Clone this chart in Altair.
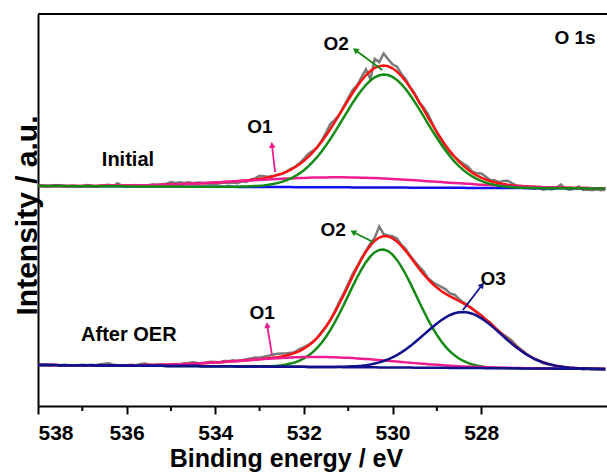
import altair as alt
import numpy as np
import pandas as pd

# ---------------- data ----------------
energy_start = 538.0      # eV, first raw-data point
energy_step = 0.1         # eV
n_points = 129

# raw spectrum = fitted envelope + residual (residuals, a.u.)
initial_residual = [
    0, 0.5, -0.5, 0, 1, 0.5, -0.5, 0, 0.5, -0.5,
    0, 1, 0.5, -0.5, 0, 0.5, 1, 0, 2.5, -0.5,
    0, -0.5, 0.5, 0, -1, 0, 0.5, 0, 0.5, 1,
    2.5, 1.5, 2, 1, 1.5, 0.5, 1, 0.5, -0.5, -1,
    -1.5, -1, -0.5, -1.5, -1, -2, -0.5, -1.5, 0.5, 1,
    3, 2, 0.5, 0, 0.5, -0.5, 0, 1, 0.5, 1,
    2, 3, 1.5, 0, 1, 3, 5, 2, 0, 1,
    2, 3, 1, 3, 6, -8, 9, 4, 12, 7,
    4, 5, 2, 2, 0, 1, -1, 2, 3, 1,
    -1, -3, -4, -2, 0, 1, 2, 3, 1, 2,
    4, 3, 1, 2, 1, 3, 4, 2, 0, 0,
    -1, -1.5, -2, -1, -2.5, -1.5, -2, 0, 3, -1,
    -2, -1, 1.5, -2, -1.5, -2, -1, -2, -1.5,
]
after_residual = [
    0, 0.5, 0, -0.5, 0.5, 0, 0.5, 0, -0.5, 0,
    0.5, 0, 0.5, 0, 1, 1.5, 2, 0.5, 0, -0.5,
    0, 0.5, 0, 1, 1.5, 0.5, 0, 0.5, 0, -0.5,
    0, 0.5, 0, 0.5, 1, 1.5, 0.5, 0, 0.5, 1,
    0.5, 0, 1, 0.5, 1, 0, 0.5, 1, 1.5, 2,
    1.5, 2, 2.5, 3, 3.5, 3, 2, 1.5, 1, 2,
    1.5, 1, 0.5, 0, 1, 0.5, 0, 1, 2, 1.5,
    2, 2.5, 1, 1, 1, 2, 3, 11, 2, 1,
    2, 3, 1, 2, 1, 1.5, 2, 3, 1, 2,
    3, 4, 4.5, 3, 4, 2, 1, 0.5, 0, -0.5,
    0, -0.5, 0.5, 0, 0.5, 1, 2, 2.5, 1.5, 1,
    0.5, 0, -0.5, 0, -1, -0.5, 0.5, -1, -0.5, 0,
    -1, -0.5, 0, -1, -0.5, 0, -0.5, -1, -0.5,
]

# fitted components: (centre eV, height a.u., sigma eV)
initial_components = {"O1": (531.18, 10, 2.14), "O2": (530.19, 113, 0.93)}
after_components = {"O1": (531.63, 10, 1.69), "O2": (530.23, 118, 0.77), "O3": (528.41, 56, 0.86)}

# linear backgrounds (offset of each stacked spectrum) at 538 eV and at 525.16 eV
initial_background = (220.0, 217.5)
after_background = (41.0, 37.0)

x_min, x_max = 525.16, 538.0
tick_values = [538, 536, 534, 532, 530, 528]
minor_tick_values = [537, 535, 533, 531, 529]

labels = ["O 1s", "Initial", "After OER", "O1", "O2", "O1", "O2", "O3"]
label_energy = [525.88, 535.97, 535.95, 532.99, 531.27, 532.94, 531.34, 527.73]
label_intensity = [368, 246, 71, 279, 362, 93, 176, 127]
label_size = [19, 20, 20, 19, 19, 19, 19, 19]

arrow_color = ["#ee1c8e", "#138a13", "#ee1c8e", "#138a13", "#10108c"]
arrow_e_start = [532.65, 530.23, 532.72, 530.44, 528.41]
arrow_i_start = [234, 336, 51, 164, 96]
arrow_e_tip = [532.72, 530.84, 532.83, 530.89, 527.98]
arrow_i_tip = [261, 356, 81, 174, 121]

# ---------------- build tables ----------------
W, H = 569, 392
energy = np.round(energy_start - energy_step * np.arange(n_points), 3)


def gauss(e, c, h, s):
    return h * np.exp(-((e - c) ** 2) / (2 * s * s))


def background(e, b):
    return b[1] + (b[0] - b[1]) * (e - x_min) / (x_max - x_min)


def spectrum(comps, bg, resid):
    base = background(energy, bg)
    curves = {"base": base}
    env = base.copy()
    for k, (c, h, s) in comps.items():
        g = gauss(energy, c, h, s)
        curves[k] = base + g
        env = env + g
    curves["env"] = env
    curves["raw"] = env + np.array(resid)
    return curves


ini = spectrum(initial_components, initial_background, initial_residual)
aft = spectrum(after_components, after_background, after_residual)

xs = alt.Scale(domain=[x_min, x_max], reverse=True, nice=False, zero=False)
ys = alt.Scale(domain=[0, H], nice=False, zero=False)

x_axis = alt.Axis(
    values=tick_values, format="d", grid=False,
    domainColor="black", domainWidth=2, tickColor="black", tickWidth=2, tickSize=8,
    labelFont="Liberation Sans", labelFontWeight="bold",
    labelFontSize=21, labelColor="black", labelBaseline="alphabetic", labelPadding=25,
    title="Binding energy / eV", titleFont="Liberation Sans",
    titleFontWeight="bold", titleFontSize=25, titleColor="black",
    titleX=248, titleY=60, titleBaseline="alphabetic", titleAlign="center",
)
y_axis = alt.Axis(
    labels=False, ticks=False, grid=False, domainColor="black", domainWidth=2,
    title="Intensity / a.u.", titleFont="Liberation Sans", titleFontWeight="bold",
    titleFontSize=30, titleColor="black", titleX=-2, titleY=201,
    titleBaseline="alphabetic", titleAlign="center", titleAngle=270,
)


def X(field):
    return alt.X(field, type="quantitative", scale=xs, axis=x_axis)


def Y(field):
    return alt.Y(field, type="quantitative", scale=ys, axis=y_axis)


def line(values, color, width=2.5):
    df = pd.DataFrame({"E": energy, "I": values})
    return alt.Chart(df).mark_line(color=color, strokeWidth=width, clip=True).encode(x=X("E"), y=Y("I"))


GRAY, RED, GREEN, PINK, BLUE, NAVY = "#7a7a7a", "#ff1010", "#138a13", "#ee1c8e", "#1010f0", "#10108c"

layers = [
    line(ini["raw"], GRAY, 2.5),
    line(ini["base"], BLUE),
    line(ini["env"], RED),
    line(ini["O1"], PINK),
    line(ini["O2"], GREEN),
    line(aft["raw"], GRAY, 2.5),
    line(aft["env"], RED),
    line(aft["O2"], GREEN),
    line(aft["O1"], PINK),
    line(aft["O3"], NAVY),
    line(aft["base"], NAVY),
]

# minor ticks
minor = alt.Chart(pd.DataFrame({"E": minor_tick_values})).mark_rule(color="black", strokeWidth=2).encode(
    x=X("E"), y=alt.value(H), y2=alt.value(H + 5))
# top frame line
top = alt.Chart(pd.DataFrame({"a": [0]})).mark_rule(color="black", strokeWidth=2).encode(
    x=alt.value(0), x2=alt.value(W), y=alt.value(0))

# arrows
px_per_ev = W / (x_max - x_min)
ang = []
for es, is_, et, it in zip(arrow_e_start, arrow_i_start, arrow_e_tip, arrow_i_tip):
    dx = (es - et) * px_per_ev
    up = it - is_
    ang.append(float(np.degrees(np.arctan2(dx, up)) % 360))
arr = pd.DataFrame({"es": arrow_e_start, "is": arrow_i_start, "et": arrow_e_tip,
                    "it": arrow_i_tip, "c": arrow_color, "ang": ang})
shafts = alt.Chart(arr).mark_rule(strokeWidth=1.8).encode(
    x=X("es"), y=Y("is"), x2="et:Q", y2="it:Q", color=alt.Color("c:N", scale=None))
heads = alt.Chart(arr).mark_point(shape="triangle-up", filled=True, size=45, opacity=1).encode(
    x=X("et"), y=Y("it"), angle=alt.Angle("ang:Q", scale=None), color=alt.Color("c:N", scale=None))

lab = pd.DataFrame({"t": labels, "E": label_energy, "I": label_intensity, "s": label_size})
texts = alt.Chart(lab).mark_text(font="Liberation Sans", fontWeight="bold", color="black",
                                 align="center", baseline="middle").encode(
    x=X("E"), y=Y("I"), text="t:N", size=alt.Size("s:Q", scale=None))

chart = alt.layer(*layers, minor, top, shafts, heads, texts).properties(
    width=W, height=H,
    padding={"left": 38, "top": 14, "right": 0, "bottom": 66},
    autosize=alt.AutoSizeParams(type="none"),
    background="white",
).configure_view(stroke=None)

chart.save("out.html", embed_options={"renderer": "svg", "actions": False})
